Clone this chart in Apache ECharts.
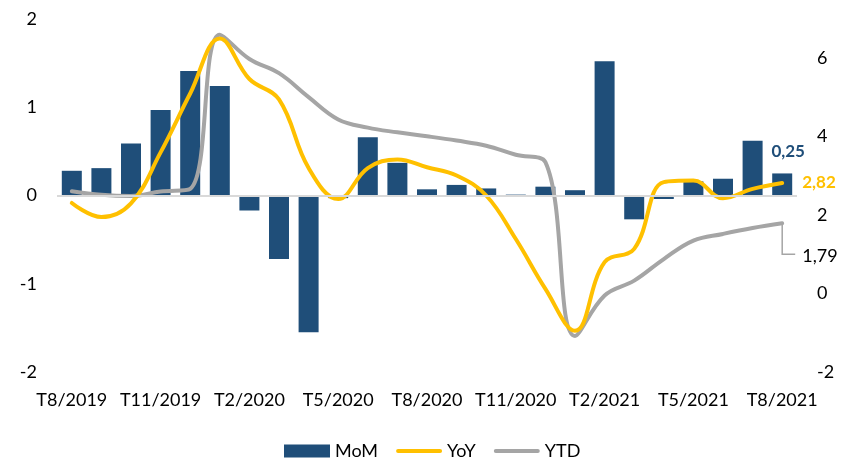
<!DOCTYPE html>
<html>
<head>
<meta charset="utf-8">
<script src="https://cdn.jsdelivr.net/npm/echarts@6/dist/echarts.min.js"></script>
<style>
  html, body { margin: 0; padding: 0; background: #fff; }
  #chart { width: 841px; height: 458px; }
</style>
</head>
<body>
<div id="chart"></div>
<script>
// Monthly periods, T8/2019 .. T8/2021
const months = [
  'T8/2019', 'T9/2019', 'T10/2019', 'T11/2019', 'T12/2019',
  'T1/2020', 'T2/2020', 'T3/2020', 'T4/2020', 'T5/2020', 'T6/2020', 'T7/2020',
  'T8/2020', 'T9/2020', 'T10/2020', 'T11/2020', 'T12/2020',
  'T1/2021', 'T2/2021', 'T3/2021', 'T4/2021', 'T5/2021', 'T6/2021', 'T7/2021', 'T8/2021'
];

// Month-on-month change (%), left axis
const mom = [
  0.28, 0.31, 0.59, 0.97, 1.41,
  1.24, -0.17, -0.72, -1.55, -0.03, 0.66, 0.37,
  0.07, 0.12, 0.08, 0.01, 0.10,
  0.06, 1.52, -0.27, -0.04, 0.16, 0.19, 0.62, 0.25
];

// Year-on-year change (%), right axis
const yoy = [
  2.31, 1.95, 2.30, 3.60, 5.10,
  6.50, 5.47, 4.95, 3.20, 2.41, 3.20, 3.42,
  3.22, 3.01, 2.50, 1.39, 0.12,
  -0.95, 0.80, 1.14, 2.84, 2.88, 2.43, 2.67, 2.82
];

// Year-to-date average (%), right axis
const ytd = [
  2.61, 2.52, 2.49, 2.60, 2.67,
  6.60, 5.98, 5.62, 5.01, 4.44, 4.23, 4.11,
  4.01, 3.90, 3.77, 3.54, 3.35,
  -1.08, -0.05, 0.33, 0.88, 1.35, 1.52, 1.67, 1.79
];

const BLUE = '#1F4E79';
const GOLD = '#FFC000';
const GREY = '#A5A5A5';
const FONT = 'Lato';

// Thick rounded stroke used as the legend icon of the two line series
const LINE_ICON = 'path://M2,0 L44,0 A2,2 0 0 1 44,4 L2,4 A2,2 0 0 1 2,0 Z';

const fmt = v => v.toFixed(2).replace('.', ',');
const last = months.length - 1;

const momData = mom.map((v, i) => i === last ? {
  value: v,
  label: {
    show: true, position: 'top', offset: [6, -8],
    formatter: () => fmt(v),
    color: BLUE, fontWeight: 'bold', fontSize: 17, fontFamily: FONT
  }
} : v);

const chart = echarts.init(document.getElementById('chart'), null, { renderer: 'canvas' });

const YTD_LABEL_DROP = 33;

chart.setOption({
  animation: false,
  textStyle: { fontFamily: FONT },
  grid: { left: 57, right: 44, top: 19, bottom: 86 },
  legend: {
    left: 279, top: 437,
    itemWidth: 46, itemHeight: 13, itemGap: 18,
    textStyle: { fontSize: 18, color: '#000', fontFamily: FONT },
    data: [
      { name: 'MoM', icon: 'rect' },
      { name: 'YoY', icon: LINE_ICON },
      { name: 'YTD', icon: LINE_ICON }
    ]
  },
  xAxis: {
    type: 'category',
    data: months,
    boundaryGap: true,
    axisLine: { show: false },
    axisTick: { show: false },
    axisLabel: { interval: 2, margin: 19, fontSize: 18, color: '#000', fontFamily: FONT }
  },
  yAxis: [
    {
      type: 'value', min: -2, max: 2, interval: 1,
      splitLine: { show: false },
      axisLine: { show: false }, axisTick: { show: false },
      axisLabel: { margin: 20, fontSize: 18, color: '#000', fontFamily: FONT }
    },
    {
      type: 'value', min: -2, max: 7, interval: 2,
      splitLine: { show: false },
      axisLine: { show: false }, axisTick: { show: false },
      axisLabel: {
        margin: 20, fontSize: 18, color: '#000', fontFamily: FONT,
        formatter: v => (v > 6.5 ? '' : String(v))
      }
    }
  ],
  series: [
    {
      name: 'MoM', type: 'bar', yAxisIndex: 0,
      data: momData,
      barWidth: 20,
      itemStyle: { color: BLUE },
      markLine: {
        silent: true, symbol: 'none',
        label: { show: false },
        lineStyle: { color: '#D9D9D9', width: 2, type: 'solid' },
        data: [{ yAxis: 0 }]
      },
      z: 2
    },
    {
      name: 'YoY', type: 'line', yAxisIndex: 1,
      data: yoy,
      smooth: 0.4,
      symbol: 'none',
      lineStyle: { color: GOLD, width: 4, cap: 'round' },
      itemStyle: { color: GOLD },
      endLabel: {
        show: true, distance: 20,
        formatter: () => fmt(yoy[last]),
        color: GOLD, fontWeight: 'bold', fontSize: 17, fontFamily: FONT
      },
      z: 4
    },
    {
      name: 'YTD', type: 'line', yAxisIndex: 1,
      data: ytd,
      smooth: 0.4,
      symbol: 'none',
      lineStyle: { color: GREY, width: 4, cap: 'round' },
      itemStyle: { color: GREY },
      endLabel: {
        show: true, distance: 20, offset: [0, YTD_LABEL_DROP],
        formatter: () => fmt(ytd[last]),
        color: '#000', fontSize: 18, fontFamily: FONT
      },
      z: 3
    }
  ]
});

// Elbow leader from the last YTD point down to its value label
const end = chart.convertToPixel({ seriesIndex: 2 }, [last, ytd[last]]);
chart.setOption({
  graphic: [{
    type: 'polyline',
    silent: true,
    shape: { points: [[end[0], end[1]], [end[0], end[1] + YTD_LABEL_DROP - 2], [end[0] + 13, end[1] + YTD_LABEL_DROP - 2]] },
    style: { stroke: GREY, lineWidth: 1.5, fill: null },
    z: 10
  }]
});
</script>
</body>
</html>
